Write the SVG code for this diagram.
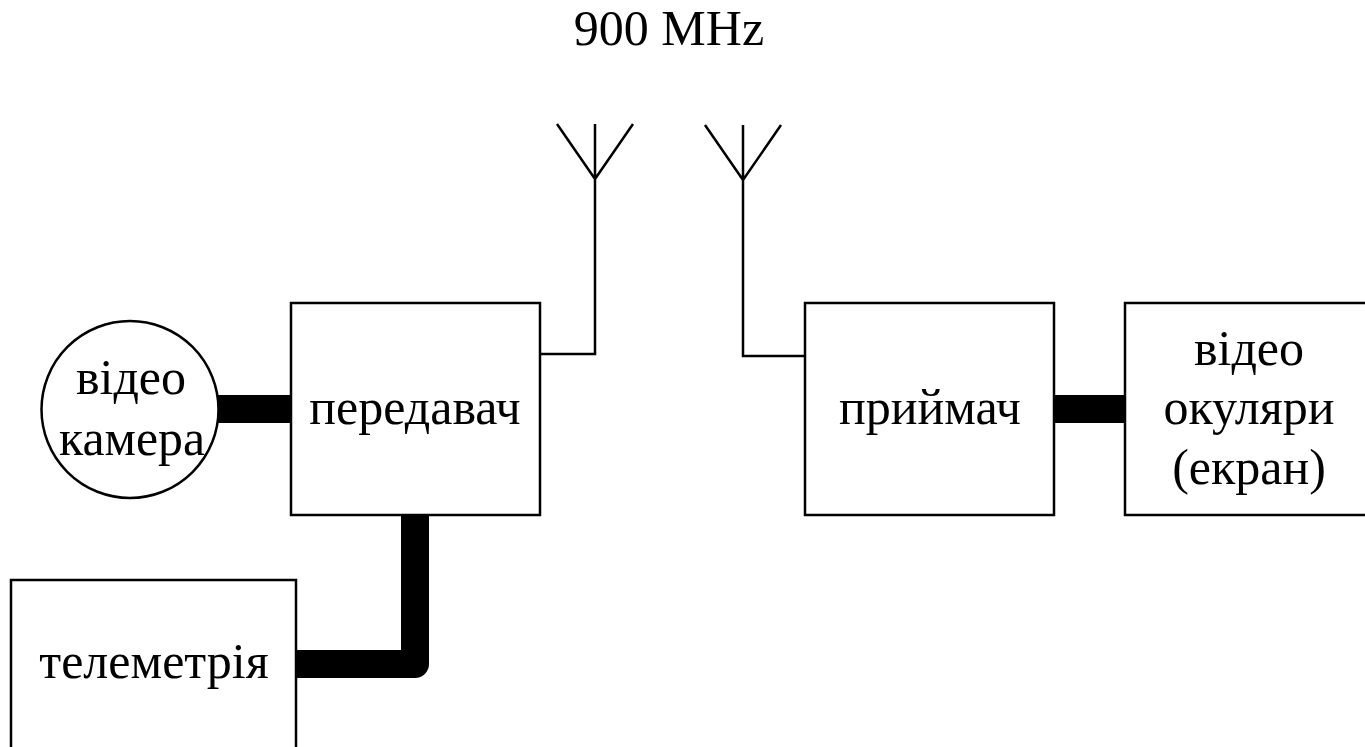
<svg xmlns="http://www.w3.org/2000/svg" width="1365" height="747" viewBox="0 0 1365 747">
<style>
.b{fill:#fff;stroke:#000;stroke-width:2.5}
.l{fill:none;stroke:#000;stroke-width:2.5}
.t{fill:none;stroke:#000;stroke-width:28;stroke-linejoin:round}
text{font-family:"Liberation Serif","Times New Roman",serif;font-size:50px;fill:#000;text-anchor:middle}
</style>
<rect width="1365" height="747" fill="#fff"/>
<g id="connectors">
<path class="t" d="M218 409H291"/>
<path class="t" d="M1054 409H1125"/>
<path class="t" d="M415 515V664H296"/>
<path class="l" d="M540 354H595V124M557 124L595 179L633 124"/>
<path class="l" d="M805 356H743V125M705 125L743 180L781 125"/>
</g>
<text id="freq" x="669" y="45">900 MHz</text>
<g id="camera"><circle class="b" cx="130" cy="409.5" r="88.5"/><text x="131" y="394">відео</text><text x="132" y="455" textLength="146" lengthAdjust="spacingAndGlyphs">камера</text></g>
<g id="tx"><rect class="b" x="291" y="303" width="249" height="212"/><text x="415" y="424">передавач</text></g>
<g id="rx"><rect class="b" x="805" y="303" width="249" height="212"/><text x="930" y="424">приймач</text></g>
<g id="goggles"><rect class="b" x="1125" y="303" width="245" height="212"/><text x="1249" y="365">відео</text><text x="1249" y="424">окуляри</text><text x="1249" y="484">(екран)</text></g>
<g id="telemetry"><rect class="b" x="11" y="580" width="285" height="170"/><text x="154" y="678">телеметрія</text></g>
</svg>
